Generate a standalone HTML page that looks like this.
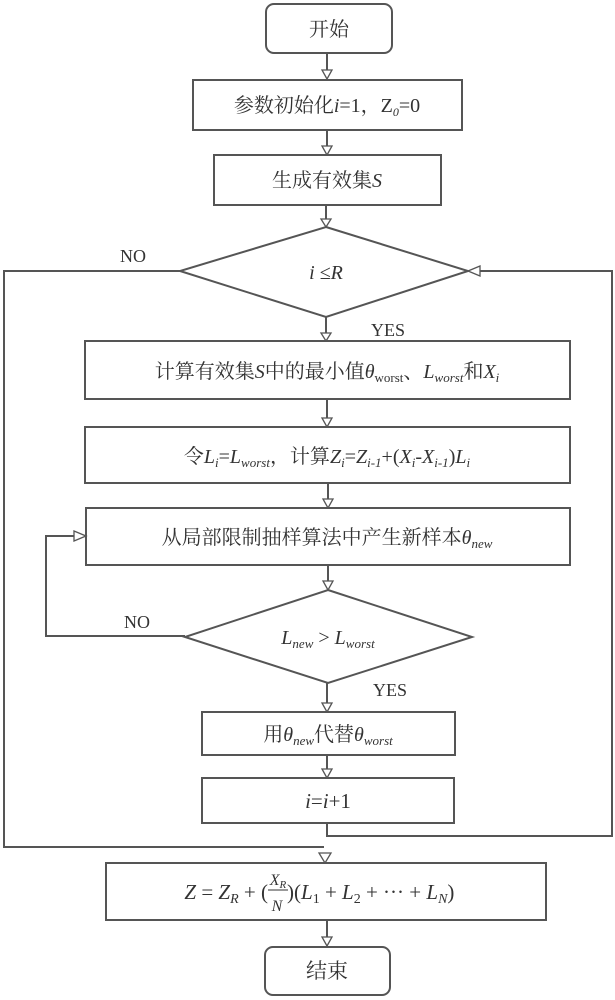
<!DOCTYPE html>
<html><head><meta charset="utf-8"><style>
html,body{margin:0;padding:0;background:#fff;}
svg{display:block;}
text{font-family:"Liberation Serif","Noto Serif CJK SC","Noto Sans CJK SC",serif;fill:#333;}
.b{fill:#fff;stroke:#555;stroke-width:2;}
.l{stroke:#555;stroke-width:2;fill:none;}
.a{fill:#fff;stroke:#555;stroke-width:1.3;}
</style></head><body>
<svg width="615" height="1000" viewBox="0 0 615 1000" xmlns="http://www.w3.org/2000/svg">
<rect class="b" x="266" y="4" width="126" height="49" rx="8"/>
<text x="329" y="36" font-size="20" text-anchor="middle">开始</text>
<line class="l" x1="327" y1="53" x2="327" y2="72"/><path class="a" d="M322,70 L332,70 L327,79Z"/>
<rect class="b" x="193" y="80" width="269" height="50"/>
<text x="327" y="112" font-size="20" text-anchor="middle">参数初始化<tspan font-style="italic">i</tspan>=1，Z<tspan font-size="12" dy="4" font-style="italic">0</tspan><tspan dy="-4">=0</tspan></text>
<line class="l" x1="327" y1="130" x2="327" y2="147"/><path class="a" d="M322,146 L332,146 L327,155Z"/>
<rect class="b" x="214" y="155" width="227" height="50"/>
<text x="327" y="187" font-size="20" text-anchor="middle">生成有效集<tspan font-style="italic">S</tspan></text>
<line class="l" x1="326" y1="205" x2="326" y2="220"/><path class="a" d="M321,219 L331,219 L326,227Z"/>
<polygon class="b" points="326,227 468,271 326,317 180,271"/>
<text x="326" y="279" font-size="20" text-anchor="middle" font-style="italic">i ≤R</text>
<text x="133" y="262" font-size="18" text-anchor="middle">NO</text>
<text x="388" y="336" font-size="18" text-anchor="middle">YES</text>
<polyline class="l" points="180,271 4,271 4,847 324,847"/>
<polyline class="l" points="327,823 327,836 612,836 612,271 478,271"/>
<path class="a" d="M468,271 L480,266 L480,276Z"/>
<line class="l" x1="326" y1="317" x2="326" y2="334"/><path class="a" d="M321,333 L331,333 L326,341Z"/>
<rect class="b" x="85" y="341" width="485" height="58"/>
<text x="327" y="378" font-size="20" text-anchor="middle">计算有效集<tspan font-style="italic">S</tspan>中的最小值<tspan font-style="italic">θ</tspan><tspan font-size="13" dy="4">worst</tspan><tspan dy="-4">、</tspan><tspan font-style="italic">L</tspan><tspan font-size="13" dy="4" font-style="italic">worst</tspan><tspan dy="-4">和</tspan><tspan font-style="italic">X</tspan><tspan font-size="13" dy="4" font-style="italic">i</tspan></text>
<line class="l" x1="327" y1="399" x2="327" y2="419"/><path class="a" d="M322,418 L332,418 L327,427Z"/>
<rect class="b" x="85" y="427" width="485" height="56"/>
<text x="327" y="463" font-size="20" text-anchor="middle">令<tspan font-style="italic">L</tspan><tspan font-size="13" dy="4" font-style="italic">i</tspan><tspan dy="-4">=</tspan><tspan font-style="italic">L</tspan><tspan font-size="13" dy="4" font-style="italic">worst</tspan><tspan dy="-4">，计算</tspan><tspan font-style="italic">Z</tspan><tspan font-size="13" dy="4" font-style="italic">i</tspan><tspan dy="-4">=</tspan><tspan font-style="italic">Z</tspan><tspan font-size="13" dy="4" font-style="italic">i-1</tspan><tspan dy="-4">+(</tspan><tspan font-style="italic">X</tspan><tspan font-size="13" dy="4" font-style="italic">i</tspan><tspan dy="-4">-</tspan><tspan font-style="italic">X</tspan><tspan font-size="13" dy="4" font-style="italic">i-1</tspan><tspan dy="-4">)</tspan><tspan font-style="italic">L</tspan><tspan font-size="13" dy="4" font-style="italic">i</tspan></text>
<line class="l" x1="328" y1="483" x2="328" y2="500"/><path class="a" d="M323,499 L333,499 L328,508Z"/>
<rect class="b" x="86" y="508" width="484" height="57"/>
<text x="327" y="544" font-size="20" text-anchor="middle">从局部限制抽样算法中产生新样本<tspan font-style="italic">θ</tspan><tspan font-size="13" dy="4" font-style="italic">new</tspan></text>
<line class="l" x1="328" y1="565" x2="328" y2="582"/><path class="a" d="M323,581 L333,581 L328,590Z"/>
<polygon class="b" points="328,590 472,637 328,683 185,637"/>
<text x="328" y="644" font-size="20" text-anchor="middle"><tspan font-style="italic">L</tspan><tspan font-size="13" dy="4" font-style="italic">new</tspan><tspan dy="-4"> &gt; </tspan><tspan font-style="italic">L</tspan><tspan font-size="13" dy="4" font-style="italic">worst</tspan></text>
<text x="137" y="628" font-size="18" text-anchor="middle">NO</text>
<text x="390" y="696" font-size="18" text-anchor="middle">YES</text>
<polyline class="l" points="185,636 46,636 46,536 78,536"/>
<path class="a" d="M86,536 L74,531 L74,541Z"/>
<line class="l" x1="327" y1="683" x2="327" y2="704"/><path class="a" d="M322,703 L332,703 L327,712Z"/>
<rect class="b" x="202" y="712" width="253" height="43"/>
<text x="328" y="741" font-size="20" text-anchor="middle">用<tspan font-style="italic">θ</tspan><tspan font-size="13" dy="4" font-style="italic">new</tspan><tspan dy="-4">代替</tspan><tspan font-style="italic">θ</tspan><tspan font-size="13" dy="4" font-style="italic">worst</tspan></text>
<line class="l" x1="327" y1="755" x2="327" y2="770"/><path class="a" d="M322,769 L332,769 L327,778Z"/>
<rect class="b" x="202" y="778" width="252" height="45"/>
<text x="328" y="808" font-size="21" text-anchor="middle"><tspan font-style="italic">i</tspan>=<tspan font-style="italic">i</tspan>+1</text>
<path class="a" d="M319,853 L331,853 L325,863Z"/>
<rect class="b" x="106" y="863" width="440" height="57"/>
<text x="268" y="899" font-size="21" text-anchor="end"><tspan font-style="italic">Z</tspan> = <tspan font-style="italic">Z</tspan><tspan font-size="14" dy="4" font-style="italic">R</tspan><tspan dy="-4"> + (</tspan></text>
<text x="278" y="885" font-size="16" text-anchor="middle" font-style="italic">X<tspan font-size="11" dy="3">R</tspan></text>
<line x1="268" y1="890" x2="288" y2="890" stroke="#333" stroke-width="1"/>
<text x="277" y="911" font-size="16" text-anchor="middle" font-style="italic">N</text>
<text x="287" y="899" font-size="21">)(<tspan font-style="italic">L</tspan><tspan font-size="14" dy="4">1</tspan><tspan dy="-4"> + </tspan><tspan font-style="italic">L</tspan><tspan font-size="14" dy="4">2</tspan><tspan dy="-4"> + ··· + </tspan><tspan font-style="italic">L</tspan><tspan font-size="14" dy="4" font-style="italic">N</tspan><tspan dy="-4">)</tspan></text>
<line class="l" x1="327" y1="920" x2="327" y2="938"/><path class="a" d="M322,937 L332,937 L327,946Z"/>
<rect class="b" x="265" y="947" width="125" height="48" rx="8"/>
<text x="327" y="978" font-size="21" text-anchor="middle">结束</text>
</svg>
</body></html>
